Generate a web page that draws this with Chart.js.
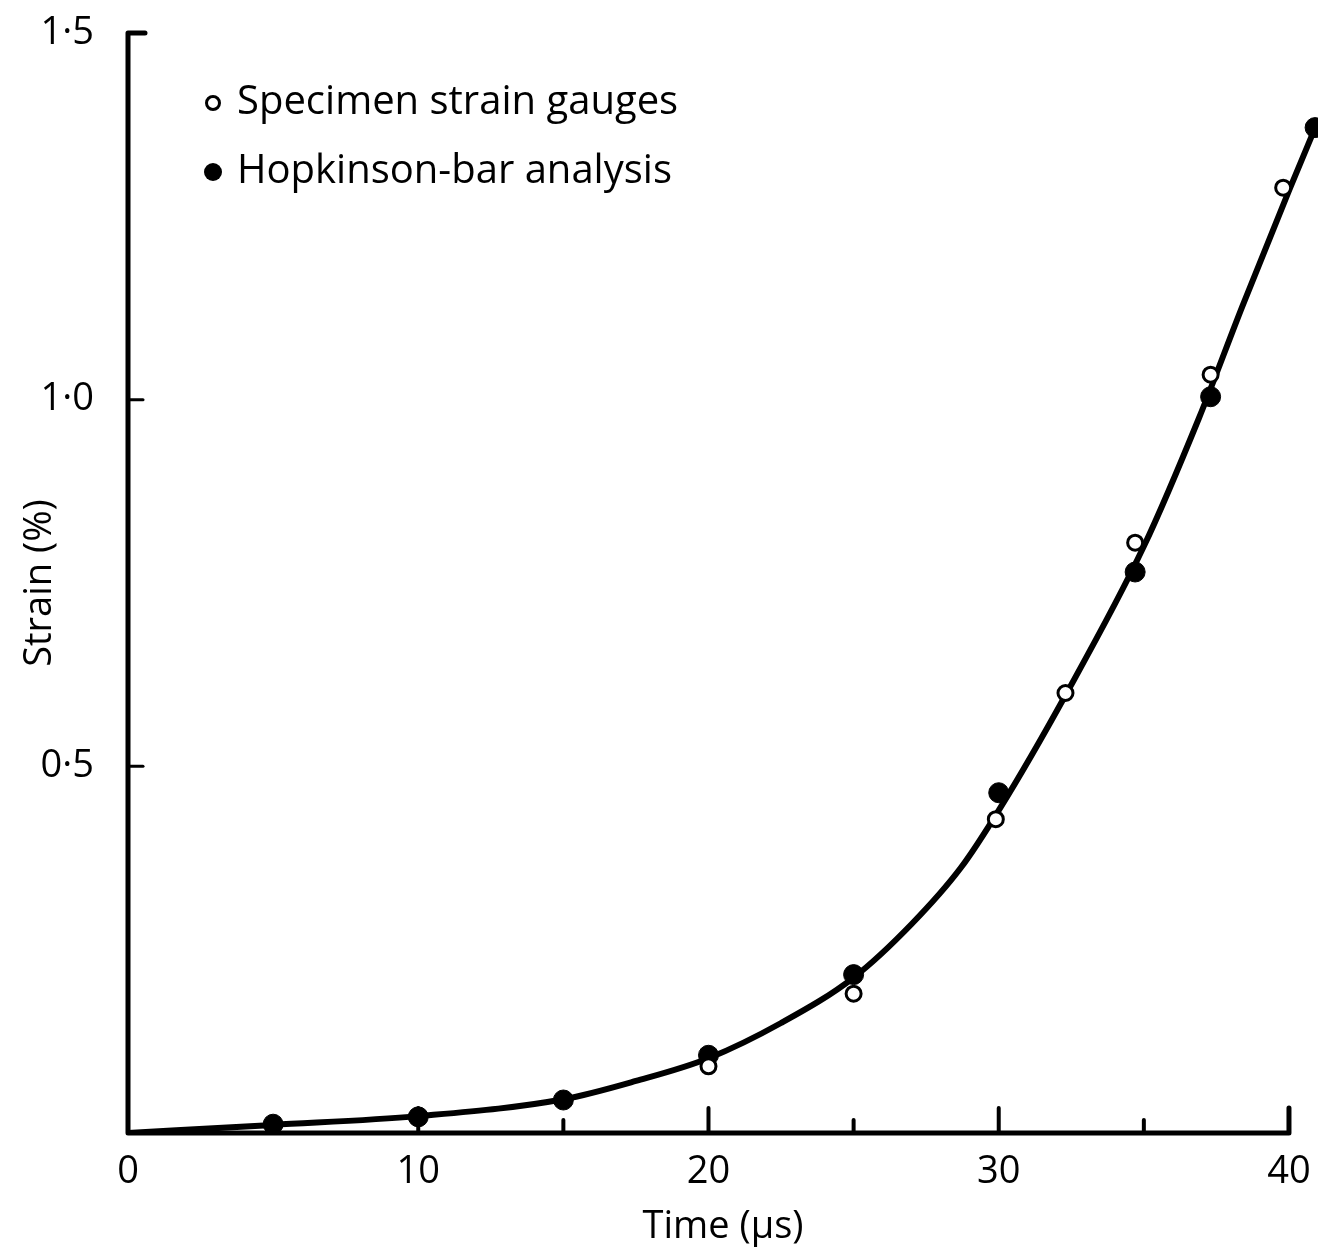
<!DOCTYPE html>
<html>
<head>
<meta charset="utf-8">
<script src="https://cdn.jsdelivr.net/npm/chart.js@4/dist/chart.umd.min.js"></script>
<style>
    html, body { margin:0; padding:0; background:#fff; }
    #wrap { width:1329px; height:1256px; position:relative; }
</style>
</head>
<body>
<div id="wrap"><canvas id="chartStrain"></canvas></div>
<script>

/*
==========================================
DATOS
==========================================
*/

// specimen strain gauges (open circles)
const gaugeTime   = [20, 25, 29.9, 32.3, 34.7, 37.3, 39.8];
const gaugeStrain = [0.091, 0.19, 0.428, 0.60, 0.805, 1.034, 1.289];

// Hopkinson-bar analysis (filled circles)
const barTime   = [5, 10, 15, 20, 25, 30, 34.7, 37.3, 40.9];
const barStrain = [0.012, 0.022, 0.045, 0.106, 0.216, 0.464, 0.765, 1.004, 1.371];

// fitted curve
const curveTime   = [0, 5, 10, 15, 17.5, 20, 22.5, 25, 27, 28.7, 30, 32.3, 35, 36.9, 38.4, 40, 41];
const curveStrain = [0, 0.011, 0.023, 0.046, 0.071, 0.102, 0.15, 0.212, 0.285, 0.362, 0.44, 0.597, 0.80, 0.975, 1.128, 1.285, 1.38];

const xTickValues     = [0, 10, 20, 30, 40];
const xMinorTickValues= [5, 15, 25, 35];
const yTickValues     = [0.5, 1.0, 1.5];

const seriesLabels = ["Specimen strain gauges", "Hopkinson-bar analysis"];

const FONT = "'Open Sans', 'DejaVu Sans', sans-serif";

function toPoints(xs, ys){
    return xs.map((x, i) => ({ x:x, y:ys[i] }));
}

/*
==========================================
EJES Y LEYENDA
==========================================
*/

const axesPlugin = {

    id:"axesPlugin",

    afterDraw(chart){

        const ctx = chart.ctx;
        const xs = chart.scales.x;
        const ys = chart.scales.y;

        const x0 = xs.getPixelForValue(0);
        const x40 = xs.getPixelForValue(40);
        const y0 = ys.getPixelForValue(0);
        const yTop = ys.getPixelForValue(1.5);

        ctx.save();
        ctx.strokeStyle = "#000";
        ctx.lineCap = "round";
        ctx.lineJoin = "round";
        ctx.lineWidth = 5;

        // axis frame
        ctx.beginPath();
        ctx.moveTo(x0 + 17, yTop);
        ctx.lineTo(x0, yTop);
        ctx.lineTo(x0, y0);
        ctx.lineTo(x40, y0);
        ctx.lineTo(x40, y0 - 25);
        ctx.stroke();

        // y ticks, pointing in
        ctx.lineWidth = 3;
        yTickValues.forEach(v => {
            if(v === 1.5) return;
            const p = ys.getPixelForValue(v);
            ctx.beginPath();
            ctx.moveTo(x0, p);
            ctx.lineTo(x0 + 15, p);
            ctx.stroke();
        });

        // x ticks, pointing up
        ctx.lineWidth = 4;
        xTickValues.forEach(v => {
            if(v === 0 || v === 40) return;
            const p = xs.getPixelForValue(v);
            ctx.beginPath();
            ctx.moveTo(p, y0);
            ctx.lineTo(p, y0 - 25);
            ctx.stroke();
        });

        xMinorTickValues.forEach(v => {
            const p = xs.getPixelForValue(v);
            ctx.beginPath();
            ctx.moveTo(p, y0);
            ctx.lineTo(p, y0 - 13);
            ctx.stroke();
        });

        // legend, top left inside plot
        const lx = x0 + 85;
        const rows = [y0 - 1030, y0 - 961];

        chart.data.datasets.forEach(ds => {

            const idx = seriesLabels.indexOf(ds.label);
            if(idx < 0) return;

            const ly = rows[idx];

            ctx.beginPath();
            if(idx === 0){
                ctx.arc(lx, ly, 6.5, 0, Math.PI * 2);
                ctx.fillStyle = "#fff";
                ctx.fill();
                ctx.lineWidth = 3;
                ctx.stroke();
            } else {
                ctx.arc(lx, ly, 9, 0, Math.PI * 2);
                ctx.fillStyle = "#000";
                ctx.fill();
            }

            ctx.fillStyle = "#000";
            ctx.font = "40px " + FONT;
            ctx.textBaseline = "middle";
            ctx.textAlign = "left";
            ctx.fillText(ds.label, lx + 24, ly);

        });

        ctx.restore();

    }

};

/*
==========================================
GRAFICA
==========================================
*/

function renderStrainChart(){

    const canvas =
        document.getElementById(
            "chartStrain"
        );

    if(!canvas) return;

    new Chart(
        canvas,
        {
            type:"scatter",

            data:{

                datasets:[

                    {
                        type:"line",
                        label:"curve",
                        data:toPoints(curveTime, curveStrain),
                        borderColor:"#000",
                        borderWidth:6,
                        pointRadius:0,
                        cubicInterpolationMode:"monotone",
                        fill:false,
                        order:3
                    },

                    {
                        label:seriesLabels[1],
                        data:toPoints(barTime, barStrain),
                        backgroundColor:"#000",
                        borderColor:"#000",
                        pointRadius:10,
                        borderWidth:1,
                        order:2
                    },

                    {
                        label:seriesLabels[0],
                        data:toPoints(gaugeTime, gaugeStrain),
                        backgroundColor:"#fff",
                        borderColor:"#000",
                        pointRadius:7.5,
                        borderWidth:3,
                        order:1
                    }

                ]

            },

            options:{

                responsive:true,

                maintainAspectRatio:false,

                animation:false,

                layout:{
                    padding:{ top:33, right:3, left:0, bottom:0 }
                },

                plugins:{
                    legend:{ display:false },
                    tooltip:{ enabled:false }
                },

                scales:{

                    x:{
                        type:"linear",
                        min:0,
                        max:41,
                        grid:{ display:false },
                        border:{ display:false },
                        afterBuildTicks(scale){
                            scale.ticks = xTickValues.map(v => ({ value:v }));
                        },
                        afterFit(scale){
                            scale.height = 123;
                        },
                        ticks:{
                            color:"#000",
                            padding:8,
                            font:{ family:FONT, size:38 },
                            maxRotation:0,
                            callback:(v) => String(v)
                        },
                        title:{
                            display:true,
                            text:"Time (µs)",
                            color:"#000",
                            font:{ family:FONT, size:38 },
                            padding:{ top:0, bottom:6 }
                        }
                    },

                    y:{
                        type:"linear",
                        min:0,
                        max:1.5,
                        grid:{ display:false },
                        border:{ display:false },
                        afterBuildTicks(scale){
                            scale.ticks = yTickValues.map(v => ({ value:v }));
                        },
                        afterFit(scale){
                            scale.width = 128;
                            scale.paddingTop = 0;
                            scale.paddingBottom = 0;
                        },
                        ticks:{
                            color:"#000",
                            padding:26,
                            font:{ family:FONT, size:38 },
                            callback:(v) => v.toFixed(1).replace(".", "·")
                        },
                        title:{
                            display:true,
                            text:"Strain (%)",
                            color:"#000",
                            font:{ family:FONT, size:38 },
                            padding:{ top:17, bottom:0 }
                        }
                    }

                }

            },

            plugins:[axesPlugin]

        }
    );

}

renderStrainChart();

</script>
</body>
</html>
